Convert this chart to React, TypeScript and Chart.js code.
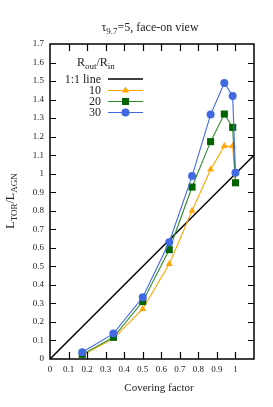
import React, { useEffect, useRef } from 'react';
import { Chart, registerables } from 'chart.js';

Chart.register(...registerables);

// ---- data ----
const coveringFactor = [0.174, 0.342, 0.5, 0.643, 0.766, 0.866, 0.94, 0.985, 1.0];
const ratio10 = [0.02, 0.11, 0.27, 0.513, 0.8, 1.023, 1.149, 1.149, 0.95];
const ratio20 = [0.025, 0.117, 0.31, 0.59, 0.928, 1.173, 1.322, 1.25, 0.951];
const ratio30 = [0.036, 0.137, 0.333, 0.63, 0.987, 1.319, 1.49, 1.42, 1.005];
const oneToOneX = [0, 1.1];
const oneToOneY = [0, 1.1];
const legendLabels = ['1:1 line', '10', '20', '30'];
const xMin = 0;
const xMax = 1.1;
const yMin = 0;
const yMax = 1.7;

const COLORS = {
  line: '#000000',
  s10: '#ffa500',
  s20line: '#2e8b2e',
  s20: '#006400',
  s30: '#4169e1',
};

const FONT = '"Liberation Serif", "DejaVu Serif", serif';

const toPts = (xs: number[], ys: number[]) => xs.map((x, i) => ({ x, y: ys[i] }));

function drawMarker(ctx: CanvasRenderingContext2D, style: string, x: number, y: number, color: string) {
  ctx.save();
  ctx.fillStyle = color;
  ctx.beginPath();
  if (style === 'circle') {
    ctx.arc(x, y, 4, 0, Math.PI * 2);
  } else if (style === 'rect') {
    ctx.rect(x - 3.5, y - 3.5, 7, 7);
  } else if (style === 'triangle') {
    ctx.moveTo(x, y - 4);
    ctx.lineTo(x + 3.5, y + 2);
    ctx.lineTo(x - 3.5, y + 2);
    ctx.closePath();
  }
  ctx.fill();
  ctx.restore();
}

function drawSubText(
  ctx: CanvasRenderingContext2D,
  parts: { t: string; sub?: boolean }[],
  x: number,
  y: number,
  size: number,
  subSize: number,
  subDrop: number,
  align: 'left' | 'center'
) {
  const widths = parts.map((p) => {
    ctx.font = `${p.sub ? subSize : size}px ${FONT}`;
    return ctx.measureText(p.t).width;
  });
  const total = widths.reduce((a, b) => a + b, 0);
  let cx = align === 'center' ? x - total / 2 : x;
  ctx.textAlign = 'left';
  ctx.textBaseline = 'alphabetic';
  parts.forEach((p, i) => {
    ctx.font = `${p.sub ? subSize : size}px ${FONT}`;
    ctx.fillText(p.t, cx, p.sub ? y + subDrop : y);
    cx += widths[i];
  });
}

const decorPlugin = {
  id: 'decor',
  afterDraw(chart: any) {
    const ctx: CanvasRenderingContext2D = chart.ctx;
    const { left, right, top, bottom } = chart.chartArea;
    const xs = chart.scales.x;
    const ys = chart.scales.y;
    ctx.save();
    // frame
    ctx.strokeStyle = '#000';
    ctx.lineWidth = 1.5;
    ctx.strokeRect(left, top, right - left, bottom - top);
    // inward ticks
    ctx.lineWidth = 1.2;
    ctx.beginPath();
    xs.ticks.forEach((t: any) => {
      if (t.value < 0.05 || t.value > 1.05) return;
      const px = Math.round(xs.getPixelForValue(t.value)) + 0.5;
      ctx.moveTo(px, bottom);
      ctx.lineTo(px, bottom - 7);
      ctx.moveTo(px, top);
      ctx.lineTo(px, top + 7);
    });
    ys.ticks.forEach((t: any) => {
      if (t.value < 0.05 || t.value > 1.65) return;
      const py = Math.round(ys.getPixelForValue(t.value)) + 0.5;
      ctx.moveTo(left, py);
      ctx.lineTo(left + 6, py);
      ctx.moveTo(right, py);
      ctx.lineTo(right - 6, py);
    });
    ctx.stroke();

    ctx.fillStyle = '#222';
    // title
    drawSubText(
      ctx,
      [{ t: 'τ' }, { t: '9.7', sub: true }, { t: '=5, face-on view' }],
      150,
      31,
      12,
      9,
      3,
      'center'
    );
    // x title
    ctx.font = `11px ${FONT}`;
    ctx.textAlign = 'center';
    ctx.fillText('Covering factor', 159, 391);
    // y title
    ctx.save();
    ctx.translate(14, 201);
    ctx.rotate(-Math.PI / 2);
    drawSubText(
      ctx,
      [{ t: 'L' }, { t: 'TOR', sub: true }, { t: '/L' }, { t: 'AGN', sub: true }],
      0,
      0,
      12,
      9,
      3,
      'center'
    );
    ctx.restore();

    // legend
    drawSubText(
      ctx,
      [{ t: 'R' }, { t: 'out', sub: true }, { t: '/R' }, { t: 'in', sub: true }],
      77,
      66,
      12,
      9,
      3,
      'left'
    );
    const rows = [79, 90.5, 101.5, 112.5];
    const lineCols = [COLORS.line, COLORS.s10, COLORS.s20line, COLORS.s30];
    const markCols = ['', COLORS.s10, COLORS.s20, COLORS.s30];
    const marks = ['', 'triangle', 'rect', 'circle'];
    legendLabels.forEach((lab, i) => {
      ctx.fillStyle = '#222';
      ctx.font = `12px ${FONT}`;
      ctx.textAlign = 'right';
      ctx.textBaseline = 'middle';
      ctx.fillText(lab, 101, rows[i] + 0.5);
      ctx.strokeStyle = lineCols[i];
      ctx.lineWidth = i === 0 ? 1.5 : 1.2;
      ctx.beginPath();
      ctx.moveTo(108, rows[i]);
      ctx.lineTo(143, rows[i]);
      ctx.stroke();
      if (marks[i]) drawMarker(ctx, marks[i], 125.5, rows[i], markCols[i]);
    });
    ctx.restore();
  },
};

export default function App() {
  const ref = useRef<HTMLCanvasElement | null>(null);
  useEffect(() => {
    if (!ref.current) return;
    const chart = new Chart(ref.current, {
      type: 'scatter',
      data: {
        datasets: [
          {
            label: '1:1 line',
            data: toPts(oneToOneX, oneToOneY),
            showLine: true,
            borderColor: COLORS.line,
            borderWidth: 1.5,
            pointRadius: 0,
            order: 4,
          },
          {
            label: '10',
            data: toPts(coveringFactor, ratio10),
            showLine: true,
            borderColor: COLORS.s10,
            backgroundColor: COLORS.s10,
            borderWidth: 1.1,
            pointStyle: 'triangle',
            pointRadius: 4,
            pointBorderWidth: 0,
            order: 3,
          },
          {
            label: '20',
            data: toPts(coveringFactor, ratio20),
            showLine: true,
            borderColor: COLORS.s20line,
            backgroundColor: COLORS.s20,
            borderWidth: 1.1,
            pointStyle: 'rect',
            pointRadius: 5,
            pointBorderWidth: 0,
            order: 2,
          },
          {
            label: '30',
            data: toPts(coveringFactor, ratio30),
            showLine: true,
            borderColor: COLORS.s30,
            backgroundColor: COLORS.s30,
            borderWidth: 1.1,
            pointStyle: 'circle',
            pointRadius: 4,
            pointBorderWidth: 0,
            order: 1,
          },
        ],
      },
      options: {
        animation: false,
        responsive: false,
        devicePixelRatio: 1,
        layout: { padding: { left: 0, right: 19, top: 44, bottom: 0 } },
        plugins: {
          legend: { display: false },
          title: { display: false },
          tooltip: { enabled: false },
        },
        scales: {
          x: {
            type: 'linear',
            min: xMin,
            max: xMax,
            grid: { display: false, drawTicks: false },
            border: { display: false },
            ticks: {
              stepSize: 0.1,
              padding: 5,
              color: '#222',
              font: { family: FONT, size: 9 },
              maxRotation: 0,
              autoSkip: false,
              callback: (v: any) => (v > 1.05 ? '' : String(Number(Number(v).toFixed(1)))),
            },
            afterFit: (s: any) => {
              s.height = 48;
            },
          },
          y: {
            type: 'linear',
            min: yMin,
            max: yMax,
            grid: { display: false, drawTicks: false },
            border: { display: false },
            ticks: {
              stepSize: 0.1,
              padding: 6,
              color: '#222',
              font: { family: FONT, size: 9 },
              autoSkip: false,
              callback: (v: any) => String(Number(Number(v).toFixed(1))),
            },
            afterFit: (s: any) => {
              s.width = 50;
            },
          },
        },
      },
      plugins: [decorPlugin],
    });
    return () => chart.destroy();
  }, []);
  return (
    <div style={{ position: 'fixed', left: 0, top: 0, width: 273, height: 407, background: '#fff' }}>
      <canvas ref={ref} width={273} height={407} style={{ width: 273, height: 407, display: 'block' }} />
    </div>
  );
}
